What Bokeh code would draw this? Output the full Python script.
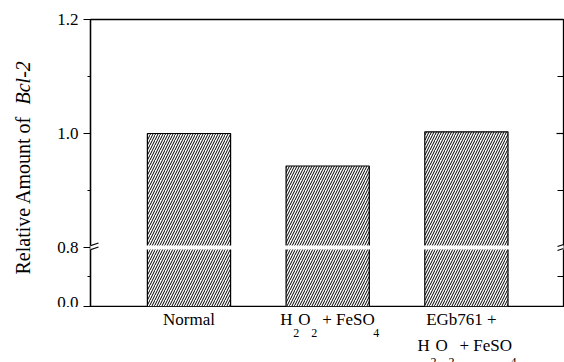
import math
from bokeh.plotting import figure
from bokeh.layouts import row, column
from bokeh.models import Range1d, FixedTicker, LinearAxis, Arrow, BoxAnnotation, Label
from bokeh.models import ColumnDataSource
from bokeh.embed import file_html
from bokeh.resources import INLINE

# ---- data ----
categories = ["Normal", "H2O2 + FeSO4", "EGb761 + H2O2 + FeSO4"]
values = [1.0, 0.943, 1.003]
y_major_ticks = [0.0, 0.8, 1.0, 1.2]
y_major_labels = ["0.0", "0.8", "1.0", "1.2"]
y_minor_ticks = [0.4, 0.9, 1.1]
right_major_ticks = [1.0]
right_minor_ticks = [0.4, 0.9, 1.1]
y_title = "Relative Amount of"
y_title_gene = "Bcl-2"

# ---- broken axis transform ----
BREAK = 0.8
LOW_FACTOR = 0.1294


def disp(v):
    return v if v >= BREAK else BREAK - (BREAK - v) * LOW_FACTOR


W, H = 564, 362
LEFT_W = 40            # width of the strip holding the y title
TOP_H = 307            # height of the main plot row
FL, FR, FT, FB = 90, 563, 19, 306   # frame edges on the page
X0, X1 = 0.29, 3.70
Y0, Y1 = disp(0.0), 1.2
KX = (X1 - X0) / (FR - FL)          # data units per pixel along x
KY = (Y1 - Y0) / (FB - FT)

FONT = "Liberation Serif"

# ---------------- main plot ----------------
p = figure(width=W - LEFT_W, height=TOP_H, x_range=Range1d(X0, X1), y_range=Range1d(Y0, Y1),
           output_backend="svg", toolbar_location=None,
           min_border_left=FL - LEFT_W, min_border_right=W - FR, min_border_top=FT,
           min_border_bottom=TOP_H - FB)
p.xaxis.visible = False
p.xgrid.visible = False
p.ygrid.visible = False
p.outline_line_color = "black"
p.outline_line_width = 1.3

yax = p.yaxis[0]
ticks = [disp(v) for v in y_major_ticks]
yax.ticker = FixedTicker(ticks=ticks, minor_ticks=[disp(v) for v in y_minor_ticks])
yax.major_label_overrides = {t: lab for t, lab in zip(ticks, y_major_labels)}
yax.major_label_text_font = FONT
yax.major_label_text_font_size = "17px"
yax.major_label_text_color = "black"
yax.major_tick_out = 7
yax.major_tick_in = 0
yax.minor_tick_out = 3
yax.minor_tick_in = 0
yax.axis_line_color = "black"
yax.axis_line_width = 1.3
yax.major_tick_line_width = 1.2
yax.minor_tick_line_width = 1.2
yax.major_label_standoff = 5

rax = LinearAxis(ticker=FixedTicker(ticks=[disp(v) for v in right_major_ticks],
                                    minor_ticks=[disp(v) for v in right_minor_ticks]),
                 major_tick_in=7, major_tick_out=0, minor_tick_in=6, minor_tick_out=0,
                 major_label_text_font_size="0px", major_label_standoff=0,
                 axis_line_color=None, major_tick_line_width=1.2, minor_tick_line_width=1.2)
p.add_layout(rax, "right")

src = ColumnDataSource(dict(x=[i + 1 for i in range(len(categories))],
                            top=[disp(v) for v in values]))
p.vbar(x="x", top="top", bottom=Y0, width=0.6, source=src,
       fill_color="white", line_color="black", line_width=1.2,
       hatch_pattern="/", hatch_color="black", hatch_scale=5, hatch_weight=1.0)

# axis break
yb = disp(BREAK)
p.add_layout(BoxAnnotation(bottom=yb - 2 * KY, top=yb + 2 * KY, fill_color="white",
                           fill_alpha=1.0, line_color=None, level="overlay"))
for xe in (X0, X1):
    p.add_layout(Arrow(end=None, x_start=xe, x_end=xe, y_start=yb - 2 * KY, y_end=yb + 2 * KY,
                       line_color="white", line_width=3, level="overlay"))
for off in (-2, 2):
    p.add_layout(Arrow(end=None, x_start=X0 - 7 * KX, x_end=X0 + 8 * KX,
                       y_start=yb - (off + 2.5) * KY, y_end=yb - (off - 2.5) * KY,
                       line_color="black", line_width=1.3, level="overlay"))
    p.add_layout(Arrow(end=None, x_start=X1 - 6 * KX, x_end=X1,
                       y_start=yb - (off + 1) * KY, y_end=yb - (off - 1) * KY,
                       line_color="black", line_width=1.3, level="overlay"))

# ---------------- left strip: y title (frame aligned with main frame) ----------------
pl = figure(width=LEFT_W, height=TOP_H, x_range=Range1d(0, LEFT_W), y_range=Range1d(FB, FT),
            output_backend="svg", toolbar_location=None, min_border_left=0, min_border_right=0,
            min_border_top=FT, min_border_bottom=TOP_H - FB)
pl.axis.visible = False
pl.grid.visible = False
pl.outline_line_color = None
pl.add_layout(Label(x=33, y=274, text=y_title, angle=math.pi / 2, text_font=FONT,
                    text_font_size="20px", text_align="left", text_baseline="bottom",
                    text_color="black"))
pl.add_layout(Label(x=33, y=104, text=y_title_gene, angle=math.pi / 2, text_font=FONT,
                    text_font_size="20px", text_font_style="italic", text_align="left",
                    text_baseline="bottom", text_color="black"))

# ---------------- bottom strip: category labels (x frame aligned with main) ----------------
BOT_H = H - TOP_H
pb = figure(width=W, height=BOT_H, x_range=Range1d(X0, X1), y_range=Range1d(BOT_H, 0),
            output_backend="svg", toolbar_location=None, min_border_left=FL,
            min_border_right=W - FR, min_border_top=0, min_border_bottom=0)
pb.axis.visible = False
pb.grid.visible = False
pb.outline_line_color = None

L1, S1, L2, S2 = 12, 25, 38, 54   # baselines below the main frame (px)


def add(cat, dx, y, text, size="17px", align="left"):
    pb.add_layout(Label(x=cat + dx * KX, y=y, text=text, text_font=FONT, text_font_size=size,
                        text_align=align, text_baseline="alphabetic", text_color="black"))


def h2o2(cat, left, base, sub):
    add(cat, left, base, "H")
    add(cat, left + 13, sub, "2", "12px")
    add(cat, left + 18, base, "O")
    add(cat, left + 31, sub, "2", "12px")
    add(cat, left + 42, base, "+ FeSO")
    add(cat, left + 93, sub, "4", "12px")


add(1, 0, L1, "Normal", align="center")
h2o2(2, -47.5, L1, S1)
add(3, -5, L1, "EGb761 +", align="center")
h2o2(3, -49, L2, S2)

layout = column(row(pl, p), pb)
open("out.html", "w").write(file_html(layout, INLINE))
